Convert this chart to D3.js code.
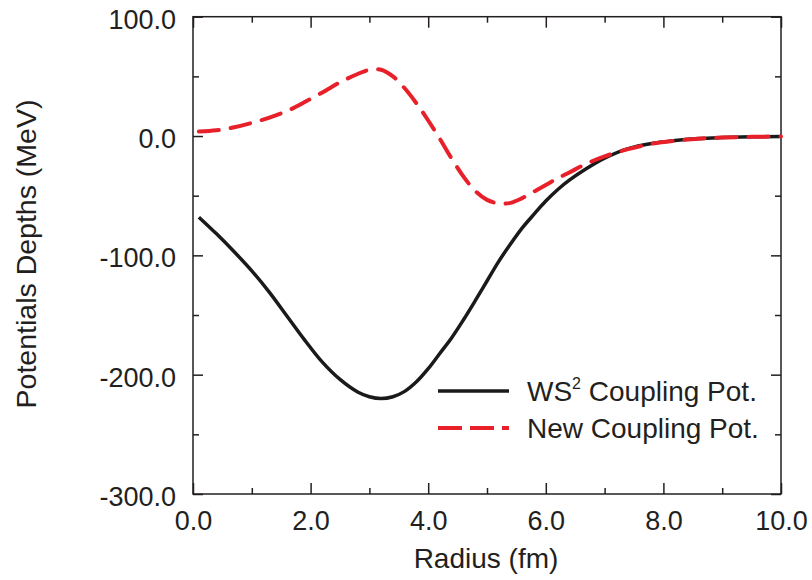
<!DOCTYPE html>
<html>
<head>
<meta charset="utf-8">
<script src="https://cdn.jsdelivr.net/npm/d3@7/dist/d3.min.js"></script>
<style>
  html, body { margin: 0; padding: 0; background: #fff; }
  svg { display: block; font-family: "Liberation Sans", Arial, Helvetica, sans-serif; }
</style>
</head>
<body>
<svg id="chart" width="812" height="580"></svg>
<script>
// ---- data ----
const radius = [0.1, 0.4, 0.7, 1.0, 1.3, 1.6, 1.9, 2.2, 2.5, 2.8, 3.0, 3.2, 3.4, 3.6, 3.8, 4.0,
                4.2, 4.4, 4.6, 4.8, 5.0, 5.2, 5.4, 5.6, 5.8, 6.0, 6.2, 6.4, 6.7, 7.0, 7.4, 7.8,
                8.2, 8.6, 9.0, 9.5, 10.0];
const ws2Coupling = [-68, -82, -97, -113, -131, -151, -171, -189.5, -204, -214.5, -218.5, -220, -218.5, -214, -206, -195,
                     -182, -169, -154, -138, -121.5, -105, -90.5, -77, -65.5, -54.5, -45, -37, -27, -18.5, -10.5, -6.2,
                     -3.8, -2.1, -1.3, -0.7, -0.3];
const newCoupling = [3.8, 4.8, 7.3, 11, 15.5, 21, 28.5, 36.5, 45, 52, 55.5, 55.5, 50, 40, 27.4, 13,
                     -2.5, -19, -34, -46, -53.5, -56.5, -56, -52, -46.5, -41, -35.5, -30.5, -23, -17, -11, -6.5,
                     -3.9, -2.2, -1.3, -0.7, -0.3];
const seriesNames = ["WS² Coupling Pot.", "New Coupling Pot."];
const xMajorTicks = [0, 2, 4, 6, 8, 10];
const xMinorTicks = [1, 3, 5, 7, 9];
const yMajorTicks = [100, 0, -100, -200, -300];
const yMinorTicks = [50, -50, -150, -250];
const xTitle = "Radius (fm)";
const yTitle = "Potentials Depths (MeV)";

// ---- layout ----
const svg = d3.select("#chart");
const L = 193, R = 781, T = 16.7, B = 494;
const x = d3.scaleLinear().domain([0, 10]).range([L, R]);
const y = d3.scaleLinear().domain([-300, 100]).range([B, T]);
const textColor = "#231f20";
const axisColor = "#231f20";
const fmt = d => d.toFixed(1);

// frame
svg.append("rect")
  .attr("x", L).attr("y", T).attr("width", R - L).attr("height", B - T)
  .attr("fill", "none").attr("stroke", axisColor).attr("stroke-width", 1.5);

function styleAxis(g) {
  g.select(".domain").remove();
  g.selectAll(".tick line").attr("stroke", axisColor).attr("stroke-width", 1.5);
  g.selectAll(".tick text").attr("fill", textColor).style("font-size", "27px");
}

// bottom axis (major with labels, minor)
svg.append("g").attr("transform", `translate(0,${B})`)
  .call(d3.axisBottom(x).tickValues(xMajorTicks).tickSize(-11).tickPadding(17).tickFormat(fmt))
  .call(styleAxis);
svg.append("g").attr("transform", `translate(0,${B})`)
  .call(d3.axisBottom(x).tickValues(xMinorTicks).tickSize(-6).tickFormat(""))
  .call(styleAxis);
// top axis
svg.append("g").attr("transform", `translate(0,${T})`)
  .call(d3.axisTop(x).tickValues(xMajorTicks).tickSize(-11).tickFormat(""))
  .call(styleAxis);
svg.append("g").attr("transform", `translate(0,${T})`)
  .call(d3.axisTop(x).tickValues(xMinorTicks).tickSize(-6).tickFormat(""))
  .call(styleAxis);
// left axis
const gy = svg.append("g").attr("transform", `translate(${L},0)`)
  .call(d3.axisLeft(y).tickValues(yMajorTicks).tickSize(-10).tickPadding(17).tickFormat(fmt))
  .call(styleAxis);
gy.selectAll(".tick text").attr("dy", "0.42em");
svg.append("g").attr("transform", `translate(${L},0)`)
  .call(d3.axisLeft(y).tickValues(yMinorTicks).tickSize(-6).tickFormat(""))
  .call(styleAxis);
// right axis
svg.append("g").attr("transform", `translate(${R},0)`)
  .call(d3.axisRight(y).tickValues(yMajorTicks).tickSize(-10).tickFormat(""))
  .call(styleAxis);
svg.append("g").attr("transform", `translate(${R},0)`)
  .call(d3.axisRight(y).tickValues(yMinorTicks).tickSize(-6).tickFormat(""))
  .call(styleAxis);

// axis titles
svg.append("text")
  .attr("x", 486).attr("y", 568)
  .attr("text-anchor", "middle").attr("fill", textColor)
  .style("font-size", "28px").text(xTitle);
svg.append("text")
  .attr("transform", `translate(36,254) rotate(-90)`)
  .attr("text-anchor", "middle").attr("fill", textColor)
  .style("font-size", "28.5px").text(yTitle);

// ---- lines ----
const line = d3.line()
  .x((d, i) => x(radius[i]))
  .y(d => y(d))
  .curve(d3.curveCatmullRom.alpha(0.5));

svg.append("path")
  .datum(ws2Coupling)
  .attr("d", line)
  .attr("fill", "none").attr("stroke", "#1a1a1a").attr("stroke-width", 3.5)
  .attr("stroke-linejoin", "round");

svg.append("path")
  .datum(newCoupling)
  .attr("d", line)
  .attr("fill", "none").attr("stroke", "#e8202a").attr("stroke-width", 4)
  .attr("stroke-dasharray", "20,12").attr("stroke-linecap", "round");

// ---- legend ----
const legend = svg.append("g");
const legendItems = [
  { name: seriesNames[0], color: "#1a1a1a", dash: null, w: 3.5, yy: 391 },
  { name: seriesNames[1], color: "#e8202a", dash: "24,8", w: 4, yy: 428 }
];
legendItems.forEach(it => {
  legend.append("line")
    .attr("x1", 438).attr("x2", 509).attr("y1", it.yy).attr("y2", it.yy)
    .attr("stroke", it.color).attr("stroke-width", it.w)
    .attr("stroke-dasharray", it.dash);
});
// legend text with superscript
const t1 = legend.append("text").attr("x", 527).attr("y", 401)
  .attr("fill", textColor).style("font-size", "28px");
t1.append("tspan").text("WS");
t1.append("tspan").attr("dy", -12).style("font-size", "16px").text("2");
t1.append("tspan").attr("dy", 12).text(" Coupling Pot.");
legend.append("text").attr("x", 527).attr("y", 438)
  .attr("fill", textColor).style("font-size", "28px").text(seriesNames[1]);
</script>
</body>
</html>
